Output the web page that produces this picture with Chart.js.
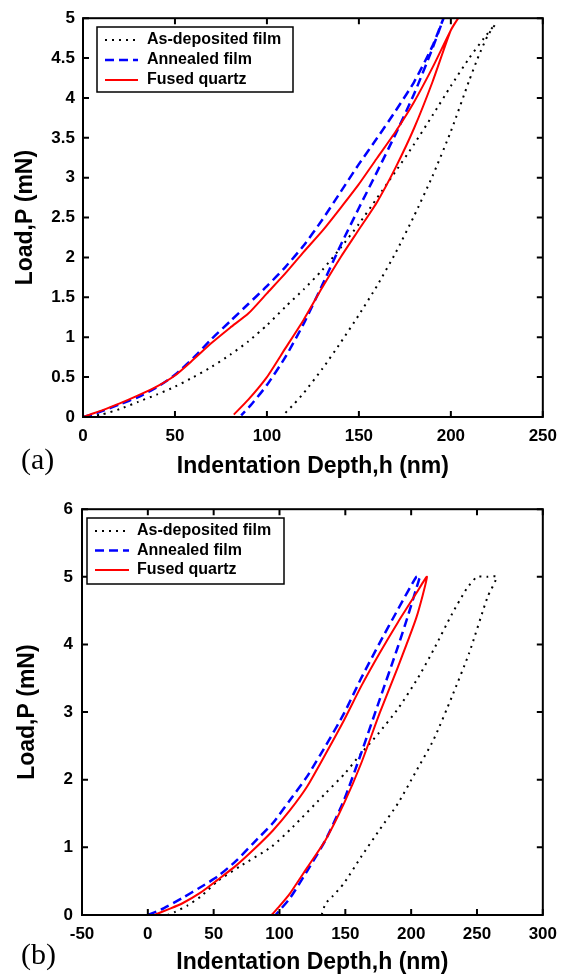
<!DOCTYPE html>
<html>
<head>
<meta charset="utf-8">
<script src="https://cdn.jsdelivr.net/npm/chart.js@4.4.1/dist/chart.umd.min.js"></script>
<style>
  html, body { margin: 0; padding: 0; background: #fff; }
  #page { position: relative; width: 566px; height: 979px; overflow: hidden; background: #fff; }
  canvas { position: absolute; left: 0; }
  #chartA { top: 0; }
  #chartB { top: 490px; }
  .tag { position: absolute; left: 21px; font-family: "Liberation Serif", "Times New Roman", serif; font-size: 30px; line-height: 30px; color: #000; }
</style>
</head>
<body>
<div id="page">
  <canvas id="chartA" width="566" height="490"></canvas>
  <canvas id="chartB" width="566" height="489"></canvas>
  <div class="tag" style="top:444px">(a)</div>
  <div class="tag" style="top:939px">(b)</div>
</div>
<script>
// series names
const seriesNames = ["As-deposited film", "Annealed film", "Fused quartz"];

// ticks
const xTicksA = [0, 50, 100, 150, 200, 250];
const yTicksA = [0, 0.5, 1, 1.5, 2, 2.5, 3, 3.5, 4, 4.5, 5];
const xTicksB = [-50, 0, 50, 100, 150, 200, 250, 300];
const yTicksB = [0, 1, 2, 3, 4, 5, 6];

// (a) depth h (nm) and load P (mN): loading then unloading
const asDepA_h = [0, 10, 20, 30, 40, 50, 60, 70, 80, 90, 100, 110, 120, 130, 140, 150, 160, 170, 180, 190, 200, 210, 218, 224,
  220, 215, 210, 200, 190, 180, 170, 160, 150, 140, 130, 120, 115, 110, 108];
const asDepA_P = [0, 0.03, 0.1, 0.19, 0.28, 0.38, 0.5, 0.63, 0.78, 0.95, 1.15, 1.38, 1.6, 1.84, 2.12, 2.42, 2.75, 3.08, 3.42, 3.78, 4.15, 4.5, 4.75, 4.92,
  4.78, 4.52, 4.22, 3.58, 3.02, 2.52, 2.06, 1.65, 1.28, 0.93, 0.6, 0.3, 0.17, 0.05, 0];

const annA_h = [0, 5, 10, 20, 30, 40, 50, 60, 70, 80, 90, 100, 110, 120, 130, 140, 150, 160, 170, 180, 190, 196,
  190, 180, 170, 160, 150, 140, 130, 120, 110, 100, 92, 86];
const annA_P = [0, 0.03, 0.07, 0.16, 0.25, 0.37, 0.53, 0.74, 0.98, 1.2, 1.42, 1.64, 1.88, 2.15, 2.47, 2.82, 3.17, 3.5, 3.84, 4.2, 4.65, 5.0,
  4.62, 4.05, 3.55, 3.08, 2.62, 2.15, 1.65, 1.17, 0.75, 0.4, 0.17, 0.02];

const fqA_h = [0, 5, 10, 20, 30, 40, 50, 60, 70, 80, 90, 100, 110, 120, 130, 140, 150, 160, 170, 180, 190, 200, 204,
  200, 190, 180, 170, 160, 150, 140, 130, 120, 110, 100, 90, 82];
const fqA_P = [0, 0.04, 0.08, 0.17, 0.27, 0.38, 0.52, 0.72, 0.93, 1.12, 1.3, 1.55, 1.8, 2.07, 2.33, 2.62, 2.92, 3.25, 3.58, 3.95, 4.38, 4.85, 5.0,
  4.85, 4.2, 3.62, 3.13, 2.7, 2.35, 2.0, 1.62, 1.22, 0.86, 0.5, 0.22, 0.03];

// (b)
const asDepB_h = [15, 20, 30, 40, 53, 70, 94, 110, 135, 150, 162, 175, 190, 205, 217, 231, 242, 250, 258, 265,
  258, 244, 231, 217, 203, 190, 176, 162, 149, 140, 135, 132];
const asDepB_P = [0, 0.04, 0.14, 0.27, 0.5, 0.72, 1.01, 1.3, 1.8, 2.1, 2.39, 2.68, 3.05, 3.5, 3.92, 4.45, 4.82, 5.0, 5.0, 5.0,
  4.7, 3.87, 3.23, 2.59, 2.1, 1.65, 1.26, 0.86, 0.47, 0.27, 0.17, 0];

const annB_h = [0, 10, 26, 40, 53, 67, 80, 95, 108, 121, 135, 149, 162, 176, 190, 204, 207,
  206, 198, 190, 176, 162, 149, 135, 121, 108, 97];
const annB_P = [0, 0.08, 0.25, 0.41, 0.57, 0.8, 1.06, 1.36, 1.7, 2.05, 2.5, 2.98, 3.5, 4.02, 4.52, 5.0, 5.0,
  4.96, 4.45, 3.97, 3.18, 2.39, 1.7, 1.11, 0.65, 0.25, 0];

const fqB_h = [5, 15, 26, 40, 53, 67, 80, 95, 108, 121, 135, 149, 162, 176, 190, 204, 212,
  204, 190, 176, 162, 149, 135, 121, 108, 100, 94];
const fqB_P = [0, 0.08, 0.17, 0.33, 0.52, 0.73, 0.96, 1.25, 1.55, 1.9, 2.38, 2.88, 3.38, 3.87, 4.33, 4.76, 5.0,
  4.4, 3.67, 2.98, 2.24, 1.65, 1.11, 0.7, 0.32, 0.13, 0];

const FONT = "'Liberation Sans', Arial, sans-serif";

const toPoints = (h, p) => h.map((v, i) => ({ x: v, y: p[i] }));

// box around plot + inward ticks on all four sides
const framePlugin = {
  id: "frame",
  afterDraw(chart) {
    const { ctx, chartArea: a, scales } = chart;
    ctx.save();
    ctx.strokeStyle = "#000";
    ctx.lineWidth = 2;
    ctx.beginPath();
    scales.x.ticks.forEach((t) => {
      const px = scales.x.getPixelForValue(t.value);
      ctx.moveTo(px, a.bottom); ctx.lineTo(px, a.bottom - 6);
      ctx.moveTo(px, a.top); ctx.lineTo(px, a.top + 6);
    });
    scales.y.ticks.forEach((t) => {
      const py = scales.y.getPixelForValue(t.value);
      ctx.moveTo(a.left, py); ctx.lineTo(a.left + 6, py);
      ctx.moveTo(a.right, py); ctx.lineTo(a.right - 6, py);
    });
    ctx.stroke();
    ctx.strokeRect(a.left, a.top, a.right - a.left, a.bottom - a.top);
    ctx.restore();
  },
};

// legend box drawn inside the plot
const boxLegend = {
  id: "boxLegend",
  afterDraw(chart, args, opts) {
    const { ctx } = chart;
    ctx.save();
    ctx.fillStyle = "#fff";
    ctx.fillRect(opts.left, opts.top, opts.width, opts.height);
    ctx.strokeStyle = "#000";
    ctx.lineWidth = 1.5;
    ctx.strokeRect(opts.left, opts.top, opts.width, opts.height);
    ctx.font = "bold 16px " + FONT;
    ctx.textBaseline = "middle";
    chart.data.datasets.forEach((ds, i) => {
      const y = opts.top + opts.rowStart + i * opts.rowGap;
      ctx.strokeStyle = ds.borderColor;
      ctx.lineWidth = ds.borderWidth;
      ctx.setLineDash(ds.borderDash || []);
      ctx.beginPath();
      ctx.moveTo(opts.left + opts.lineX0, y);
      ctx.lineTo(opts.left + opts.lineX1, y);
      ctx.stroke();
      ctx.setLineDash([]);
      ctx.fillStyle = "#000";
      ctx.fillText(ds.label, opts.left + opts.textX, y);
    });
    ctx.restore();
  },
};

function makeChart(id, sets, xTicks, yTicks, lay) {
  const styles = [
    { borderColor: "#000000", borderWidth: 2, borderDash: [2, 5], order: 2 },
    { borderColor: "#0000ff", borderWidth: 2.5, borderDash: [9, 5], order: 1 },
    { borderColor: "#ff0000", borderWidth: 2, borderDash: [], order: 0 },
  ];
  return new Chart(document.getElementById(id), {
    type: "line",
    data: {
      datasets: sets.map((s, i) => ({
        label: seriesNames[i],
        data: toPoints(s[0], s[1]),
        ...styles[i],
        pointRadius: 0,
        fill: false,
        tension: 0.2,
      })),
    },
    options: {
      responsive: false,
      animation: false,
      layout: { padding: { top: lay.top, right: lay.right, bottom: 0, left: 0 } },
      plugins: {
        legend: { display: false },
        tooltip: { enabled: false },
        boxLegend: lay.legend,
      },
      scales: {
        x: {
          type: "linear",
          min: xTicks[0],
          max: xTicks[xTicks.length - 1],
          afterBuildTicks: (s) => { s.ticks = xTicks.map((v) => ({ value: v })); },
          afterFit: (s) => { s.height = lay.xHeight; },
          grid: { display: false, drawTicks: false },
          border: { display: false },
          ticks: {
            color: "#000", padding: lay.xTickPad, maxRotation: 0, autoSkip: false,
            font: { family: FONT, size: 17, weight: "bold" },
            callback: (v) => String(v),
          },
          title: {
            display: true, text: "Indentation Depth,h (nm)", color: "#000",
            font: { family: FONT, size: 23, weight: "bold" },
            padding: { top: 0, bottom: lay.xTitlePad },
          },
        },
        y: {
          type: "linear",
          min: yTicks[0],
          max: yTicks[yTicks.length - 1],
          afterBuildTicks: (s) => { s.ticks = yTicks.map((v) => ({ value: v })); },
          afterFit: (s) => { s.width = lay.yWidth; },
          grid: { display: false, drawTicks: false },
          border: { display: false },
          ticks: {
            color: "#000", padding: lay.yTickPad, autoSkip: false,
            font: { family: FONT, size: 17, weight: "bold" },
            callback: (v) => String(v),
          },
          title: {
            display: true, text: "Load,P (mN)", color: "#000",
            font: { family: FONT, size: 23, weight: "bold" },
            padding: { top: lay.yTitlePad, bottom: 0 },
          },
        },
      },
    },
    plugins: [framePlugin, boxLegend],
  });
}

makeChart("chartA",
  [[asDepA_h, asDepA_P], [annA_h, annA_P], [fqA_h, fqA_P]],
  xTicksA, yTicksA,
  {
    top: 13, right: 20, xHeight: 73, yWidth: 83, xTickPad: 9, yTickPad: 8, xTitlePad: 10, yTitlePad: 12,
    legend: { left: 97, top: 27, width: 196, height: 65, rowStart: 13, rowGap: 20, lineX0: 8, lineX1: 41, textX: 50 },
  });

makeChart("chartB",
  [[asDepB_h, asDepB_P], [annB_h, annB_P], [fqB_h, fqB_P]],
  xTicksB, yTicksB,
  {
    top: 19, right: 23, xHeight: 64, yWidth: 82, xTickPad: 9, yTickPad: 9, xTitlePad: 3, yTitlePad: 14,
    legend: { left: 87, top: 28, width: 197, height: 66, rowStart: 13, rowGap: 19.5, lineX0: 8, lineX1: 42, textX: 50 },
  });
</script>
</body>
</html>
